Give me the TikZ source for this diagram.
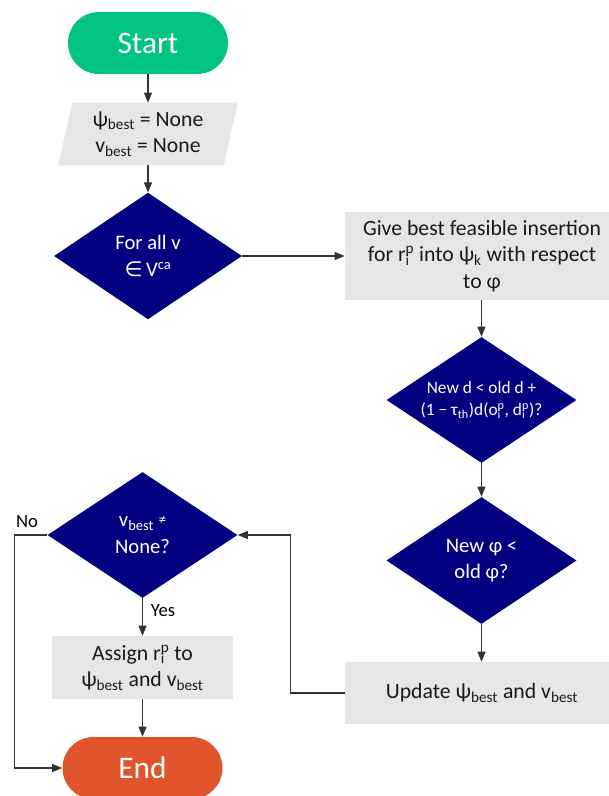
\documentclass[tikz,border=0pt]{standalone}
\usepackage{fontspec}
\setmainfont{Carlito}
\newfontfamily\symfont{DejaVu Sans}
\usetikzlibrary{shapes.geometric,shapes.misc,arrows.meta,backgrounds,calc}
\definecolor{startgreen}{RGB}{0,196,128}
\definecolor{endorange}{RGB}{225,84,44}
\definecolor{decnavy}{RGB}{0,0,128}
\definecolor{boxgray}{RGB}{230,230,230}
% stacked sub/superscript i/p, and the "best" subscript
\newcommand{\ip}{\makebox[0pt][l]{\textsubscript{i}}\textsuperscript{p}}
\newcommand{\sbest}{\textsubscript{best}}
\begin{document}
\begin{tikzpicture}[x=0.75pt,y=-0.75pt,
  conn/.style={draw=black!80,line width=0.8pt},
  arr/.style={conn,-{Triangle[length=7.5pt,width=6pt]}},
  term/.style={rounded rectangle,minimum width=120pt,minimum height=46.5pt,text=white,
    font=\fontsize{23.5}{28}\selectfont,inner sep=0pt},
  procbox/.style={rectangle,fill=boxgray,inner sep=0pt,align=center,
    font=\fontsize{16.3}{19.8}\selectfont,text=black!90},
  decision/.style={diamond,fill=decnavy,inner sep=0pt,minimum width=142.5pt,minimum height=94.5pt},
  dtext/.style={text=white,align=center,font=\fontsize{15.5}{20}\selectfont,inner sep=0pt},
  lbl/.style={font=\fontsize{14}{16}\selectfont,inner sep=0pt}]

\useasboundingbox (0,0) rectangle (608,796);

% terminals
\node[term,fill=startgreen] (start) at (148,43) {Start};
\node[term,fill=endorange] (end) at (142.5,768) {End};

% initialisation (parallelogram)
\node[procbox,fill=none,minimum width=123.75pt,minimum height=46.5pt] (init) at (148,134)
  {ψ\sbest{} = None\\v\sbest{} = None};
\begin{pgfonlayer}{background}
  \fill[boxgray] ([xshift=5.25pt]init.north west) -- ([xshift=5.25pt]init.north east)
    -- ([xshift=-5.25pt]init.south east) -- ([xshift=-5.25pt]init.south west) -- cycle;
\end{pgfonlayer}

% loop over vehicles
\node[decision,minimum width=141pt,minimum height=95pt] (loop) at (148,256) {};
\node[dtext] (loopt) at (loop) {For all v\\{\symfont ∈}\,V\textsuperscript{ca}};

% insertion (box runs past the right edge)
\node[procbox,minimum width=205.5pt,minimum height=66pt] (give) at (482,256)
  {\raisebox{0pt}[\height][\depth]{}Give best feasible insertion\\for r\ip{} into ψ\textsubscript{k} with respect\\to φ};

% detour check
\node[decision] (dist) at (481.5,400) {};
\node[dtext,font=\fontsize{13}{16.5}\selectfont] (distt) at (dist)
  {New d < old d +\\(1 − τ\textsubscript{th})d(o\ip, d\ip)?};

% cost check
\node[decision,minimum height=95.25pt] (cost) at (481.5,560.5) {};
\node[dtext] (costt) at (cost) {New φ <\\old φ?};

% update (box runs past the right edge)
\node[procbox,minimum width=205.5pt,minimum height=46.5pt] (upd) at (482,693)
  {Update ψ\sbest{} and v\sbest};

% found check
\node[decision] (found) at (142.5,535) {};
\node[dtext] (foundt) at (found) {v\sbest{} \raisebox{2pt}{\fontsize{11}{11}\selectfont ≠}\\None?};

% assignment
\node[procbox,minimum width=135.75pt,minimum height=47.25pt] (assign) at (142.5,667.5)
  {Assign r\ip{} to\\ψ\sbest{} and v\sbest};

% branch labels
\node[lbl] (nolbl) at (27,522) {No};
\node[lbl] (yeslbl) at (163,611) {Yes};

% connectors
\draw[arr] (start.south) -- (start.south |- init.north);
\draw[arr] (init.south) -- (loop.north);
\draw[arr] (loop.east) -- (give.west);
\draw[arr] (dist.north |- give.south) -- (dist.north);
\draw[arr] (dist.south) -- (cost.north);
\draw[arr] (cost.south) -- (cost.south |- upd.north);
\draw[arr] (upd.west) -- ++(-54,0) |- (found.east);
\draw[arr] (found.south) -- (assign.north);
\draw[arr] (assign.south) -- (end.north);
\draw[arr] (found.west) -- ++(-33,0) |- (end.west);
\end{tikzpicture}
\end{document}
